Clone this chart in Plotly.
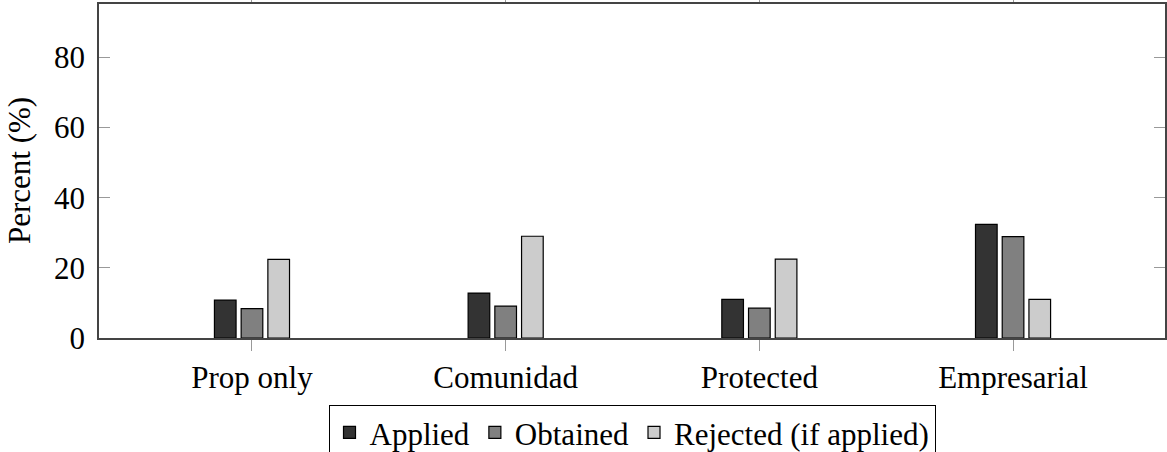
import plotly.graph_objects as go

# Categories and series (percent)
categories = ["Prop only", "Comunidad", "Protected", "Empresarial"]
applied = [10.8, 12.8, 11.0, 32.4]
obtained = [8.4, 9.1, 8.5, 28.9]
rejected = [22.4, 29.0, 22.5, 11.0]

series_names = ["Applied", "Obtained", "Rejected (if applied)"]
series_values = [applied, obtained, rejected]
series_colors = ["#333333", "#808080", "#cccccc"]

y_ticks = [0, 20, 40, 60, 80]

FONT = "Liberation Serif"
FS = 31

fig = go.Figure()
for name, vals, col in zip(series_names, series_values, series_colors):
    fig.add_trace(go.Bar(
        x=list(range(len(categories))),
        y=vals,
        name=name,
        marker=dict(color=col, line=dict(color="#000000", width=1.2)),
    ))

fig.update_layout(
    template="none",
    width=1167,
    height=452,
    autosize=False,
    margin=dict(l=99, r=2, t=4, b=114, autoexpand=False),
    paper_bgcolor="white",
    plot_bgcolor="white",
    barmode="group",
    bargap=0.684,
    bargroupgap=0.19,
    font=dict(family=FONT, size=FS, color="#000000"),
    showlegend=True,
    legend=dict(
        orientation="h",
        x=0.5,
        xanchor="center",
        y=-0.20,
        yanchor="top",
        bordercolor="#000000",
        borderwidth=1,
        bgcolor="white",
        font=dict(family=FONT, size=FS),
        itemwidth=30,
        tracegroupgap=0,
    ),
    xaxis=dict(
        automargin=False,
        range=[-0.603, 3.599],
        tickmode="array",
        tickvals=list(range(len(categories))),
        ticktext=categories,
        ticks="outside",
        ticklen=11,
        tickcolor="#999999",
        tickwidth=1,
        showline=True,
        linecolor="#444444",
        linewidth=1.5,
        mirror="ticks",
        showgrid=False,
        zeroline=False,
        tickfont=dict(family=FONT, size=FS),
    ),
    yaxis=dict(
        automargin=False,
        range=[0, 95.2],
        tickmode="array",
        tickvals=y_ticks,
        ticks="inside",
        ticklen=11,
        tickcolor="#999999",
        tickwidth=1,
        showline=True,
        linecolor="#444444",
        linewidth=1.5,
        mirror="ticks",
        showgrid=False,
        zeroline=False,
        tickfont=dict(family=FONT, size=FS),
        ticklabelstandoff=6,
    ),
    annotations=[dict(
        text="Percent (%)",
        textangle=-90,
        xref="paper", yref="paper",
        x=-0.075, y=0.5,
        xanchor="center", yanchor="middle",
        showarrow=False,
        font=dict(family=FONT, size=FS),
    )],
)

fig.write_html("out.html")
